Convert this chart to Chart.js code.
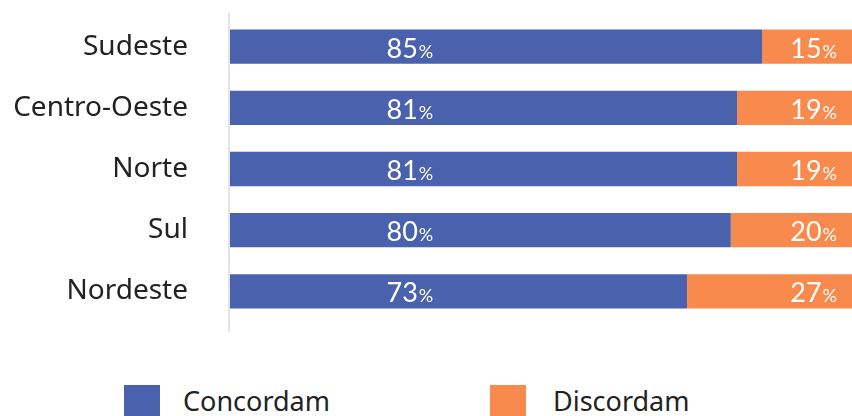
<!DOCTYPE html>
<html>
<head>
<meta charset="utf-8">
<script src="https://cdn.jsdelivr.net/npm/chart.js@4/dist/chart.umd.min.js"></script>
<style>
  body { margin: 0; background: #fff; overflow: hidden; width: 852px; height: 416px; }
  #wrap { position: relative; width: 856px; height: 345px; }
  #legend { position: absolute; left: 0; top: 385px; width: 852px; height: 40px; }
  .item { position: absolute; top: 0; font-family: "Noto Sans", sans-serif; font-size: 27px; color: #222; }
  .box { position: absolute; top: 0; width: 36px; height: 36px; }
  .txt { position: absolute; top: -2px; white-space: nowrap; line-height: 36px; }
</style>
</head>
<body>
<div id="wrap"><canvas id="chart" width="856" height="345"></canvas></div>
<div id="legend"></div>
<script>
// Dados
var regioes = ['Sudeste', 'Centro-Oeste', 'Norte', 'Sul', 'Nordeste'];
var concordam = [85, 81, 81, 80, 73];
var discordam = [15, 19, 19, 20, 27];
var series = ['Concordam', 'Discordam'];
var cores = ['#4a62ad', '#f98a4e'];

// linha do eixo vertical
var axisLine = {
    id: 'axisLine',
    beforeDatasetsDraw: function (chart) {
        var ctx = chart.ctx;
        var x = chart.chartArea.left - 1;
        ctx.save();
        ctx.strokeStyle = '#e4e4e4';
        ctx.lineWidth = 2;
        ctx.beginPath();
        ctx.moveTo(x, 13);
        ctx.lineTo(x, 332);
        ctx.stroke();
        ctx.restore();
    }
};

// rótulos de valor
var valueLabels = {
    id: 'valueLabels',
    afterDatasetsDraw: function (chart) {
        var ctx = chart.ctx;
        var xs = chart.scales.x;
        ctx.save();
        ctx.fillStyle = '#fff';
        ctx.textBaseline = 'alphabetic';
        chart.data.datasets.forEach(function (ds, i) {
            var meta = chart.getDatasetMeta(i);
            meta.data.forEach(function (bar, j) {
                var num = String(ds.data[j]);
                var y = bar.y + 11;
                ctx.font = '27px Lato, sans-serif';
                var wNum = ctx.measureText(num).width;
                ctx.font = '18px Lato, sans-serif';
                var wPct = ctx.measureText('%').width;
                var x;
                if (i === 0) {
                    x = xs.getPixelForValue(25);
                } else {
                    x = xs.getPixelForValue(100) - 20 - wNum - wPct;
                }
                ctx.textAlign = 'left';
                ctx.font = '27px Lato, sans-serif';
                ctx.fillText(num, x, y);
                ctx.font = '18px Lato, sans-serif';
                ctx.fillText('%', x + wNum + 1, y);
            });
        });
        ctx.restore();
    }
};

document.addEventListener('DOMContentLoaded', function () {
    var ctx = document.getElementById('chart').getContext('2d');
    new Chart(ctx, {
        type: 'bar',
        data: {
            labels: regioes,
            datasets: [
                { label: series[0], data: concordam, backgroundColor: cores[0], borderWidth: 0 },
                { label: series[1], data: discordam, backgroundColor: cores[1], borderWidth: 0 }
            ]
        },
        options: {
            indexAxis: 'y',
            responsive: false,
            animation: false,
            layout: { padding: { top: 16, bottom: 23, right: 0 } },
            datasets: { bar: { barPercentage: 0.56, categoryPercentage: 1 } },
            plugins: {
                legend: { display: false },
                tooltip: { enabled: false }
            },
            scales: {
                x: { stacked: true, display: false, min: 0, max: 100 },
                y: {
                    stacked: true,
                    grid: { display: false, drawTicks: false },
                    border: { display: false },
                    ticks: {
                        padding: 42,
                        color: '#222',
                        font: { family: 'Noto Sans', size: 28 }
                    },
                    afterFit: function (scale) {
                        scale.width = 230;
                        scale.paddingTop = 0;
                        scale.paddingBottom = 0;
                    }
                }
            }
        },
        plugins: [axisLine, valueLabels]
    });

    // legenda
    var legend = document.getElementById('legend');
    var lefts = [124, 490];
    var gaps = [59, 63];
    series.forEach(function (name, i) {
        var item = document.createElement('div');
        item.className = 'item';
        item.style.left = lefts[i] + 'px';
        item.innerHTML = '<div class="box" style="left:0;background:' + cores[i] + '"></div>' +
            '<div class="txt" style="left:' + gaps[i] + 'px">' + name + '</div>';
        legend.appendChild(item);
    });
});
</script>
</body>
</html>
